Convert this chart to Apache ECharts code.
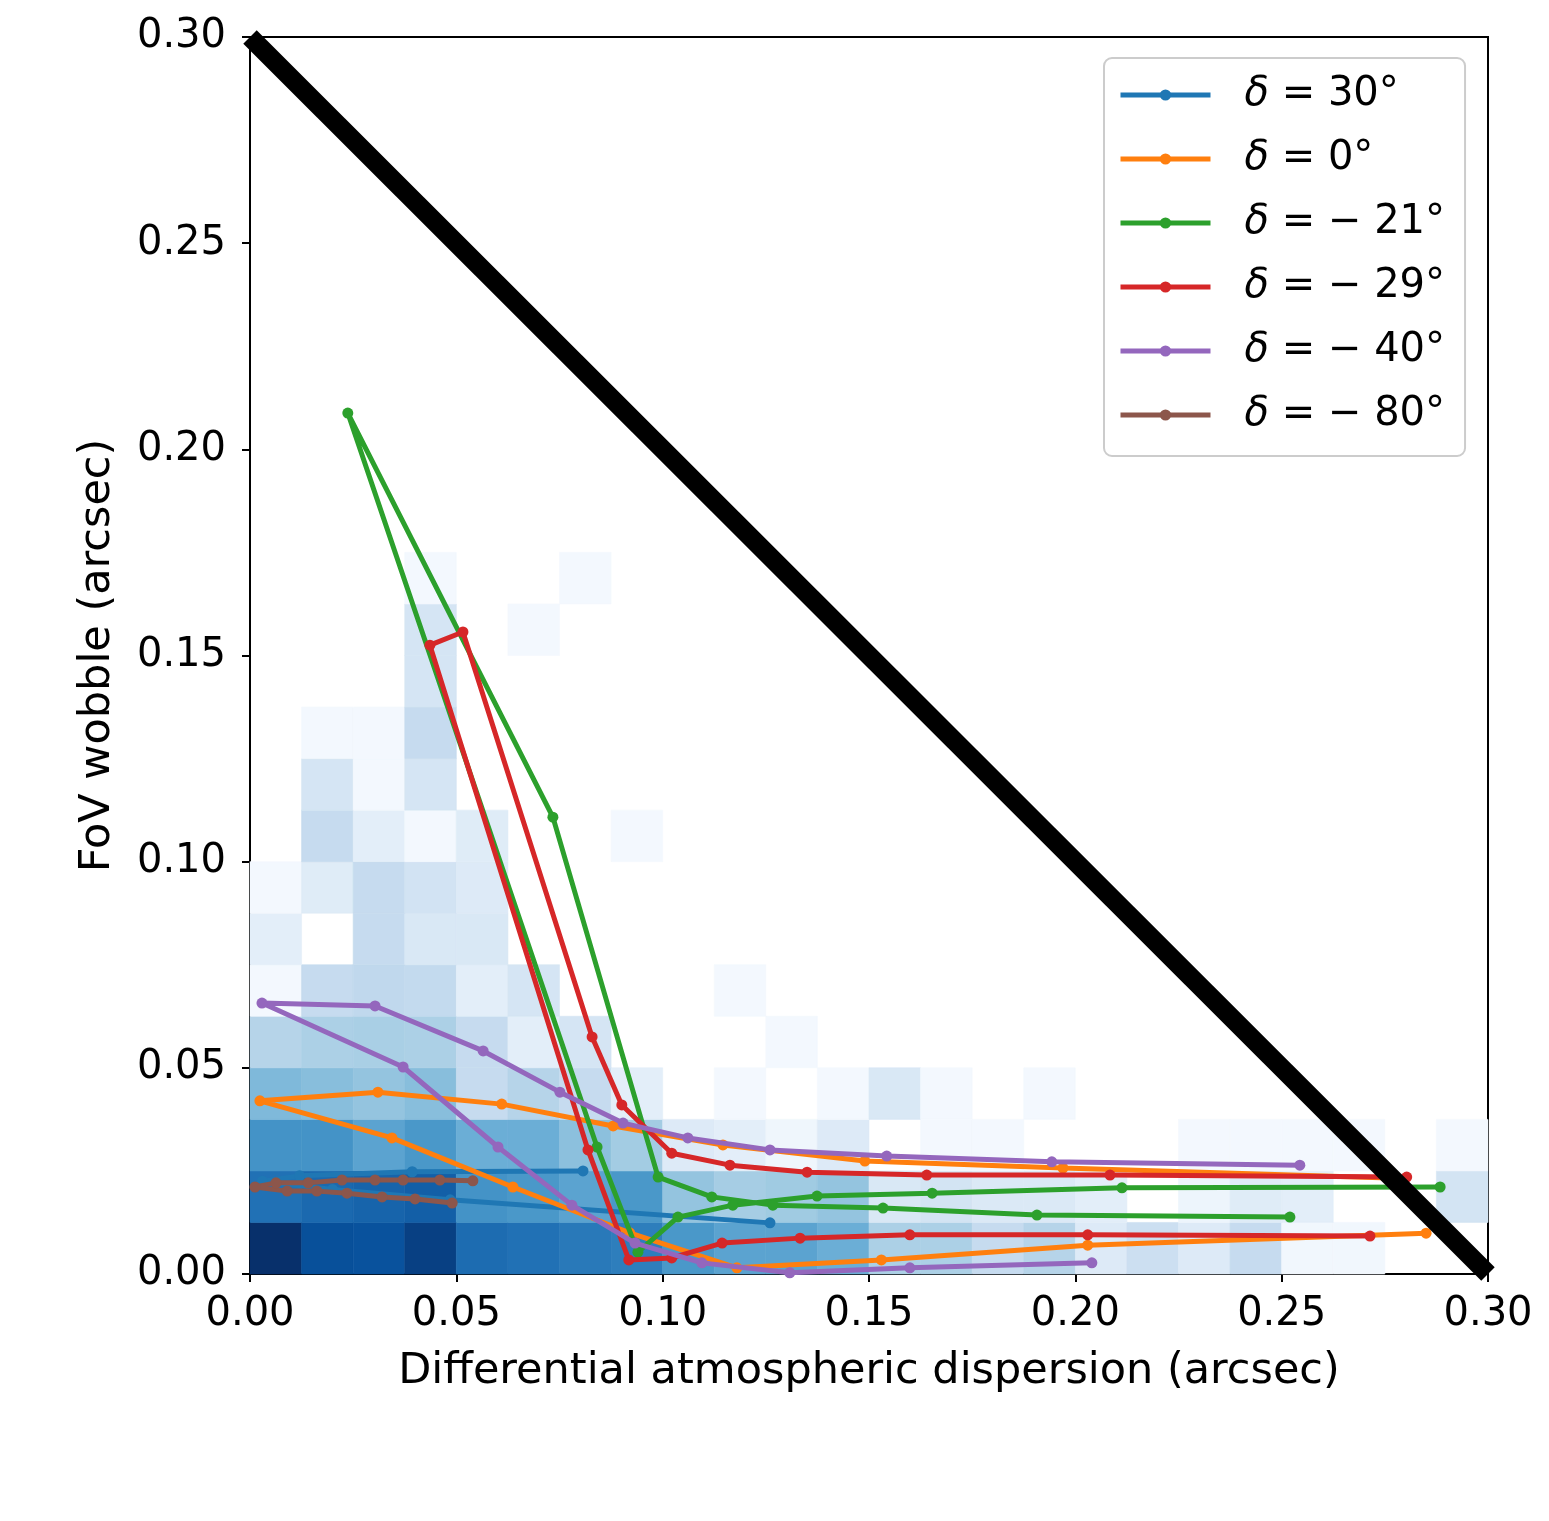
<!DOCTYPE html>
<html><head><meta charset="utf-8">
<script src="https://cdn.jsdelivr.net/npm/echarts@6/dist/echarts.min.js"></script>
<style>html,body{margin:0;padding:0;background:#fff}#c{width:1549px;height:1521px}</style>
</head><body><div id="c"></div>
<script>
// ---- data ----
const tickValues = [0, 0.05, 0.10, 0.15, 0.20, 0.25, 0.30];
const binSize = 0.0125;
// 2D histogram (normalised density, 0 = empty bin); rows from y=0 upward, 24 columns from x=0
const heatRows = [
  [1.0, 0.88, 0.87, 0.94, 0.77, 0.75, 0.72, 0.70, 0.60, 0.55, 0.55, 0.50, 0.33, 0.33, 0.25, 0.30, 0.13, 0.22, 0.13, 0.25, 0.03, 0.03, 0, 0],
  [0.75, 0.78, 0.80, 0.82, 0.62, 0.60, 0.55, 0.60, 0.40, 0.35, 0.37, 0.40, 0.15, 0.18, 0.14, 0.14, 0.10, 0, 0.05, 0.12, 0.10, 0, 0, 0.18],
  [0.62, 0.62, 0.55, 0.60, 0.50, 0.50, 0.42, 0.36, 0.13, 0.10, 0.04, 0.13, 0, 0.02, 0.02, 0, 0, 0, 0.02, 0.02, 0.02, 0.02, 0, 0.02],
  [0.45, 0.43, 0.40, 0.43, 0.25, 0.30, 0.25, 0.10, 0, 0.02, 0, 0.02, 0.15, 0.02, 0, 0.02, 0, 0, 0, 0, 0, 0, 0, 0],
  [0.30, 0.33, 0.34, 0.33, 0.25, 0.10, 0.17, 0, 0, 0, 0.02, 0, 0, 0, 0, 0, 0, 0, 0, 0, 0, 0, 0, 0],
  [0.02, 0.25, 0.27, 0.26, 0.10, 0.17, 0, 0, 0, 0.02, 0, 0, 0, 0, 0, 0, 0, 0, 0, 0, 0, 0, 0, 0],
  [0.10, 0, 0.25, 0.15, 0.15, 0, 0, 0, 0, 0, 0, 0, 0, 0, 0, 0, 0, 0, 0, 0, 0, 0, 0, 0],
  [0.02, 0.12, 0.25, 0.19, 0.13, 0, 0, 0, 0, 0, 0, 0, 0, 0, 0, 0, 0, 0, 0, 0, 0, 0, 0, 0],
  [0, 0.25, 0.10, 0.02, 0.12, 0, 0, 0.02, 0, 0, 0, 0, 0, 0, 0, 0, 0, 0, 0, 0, 0, 0, 0, 0],
  [0, 0.17, 0.02, 0.17, 0, 0, 0, 0, 0, 0, 0, 0, 0, 0, 0, 0, 0, 0, 0, 0, 0, 0, 0, 0],
  [0, 0.02, 0.02, 0.25, 0, 0, 0, 0, 0, 0, 0, 0, 0, 0, 0, 0, 0, 0, 0, 0, 0, 0, 0, 0],
  [0, 0, 0, 0.17, 0, 0, 0, 0, 0, 0, 0, 0, 0, 0, 0, 0, 0, 0, 0, 0, 0, 0, 0, 0],
  [0, 0, 0, 0.17, 0, 0.02, 0, 0, 0, 0, 0, 0, 0, 0, 0, 0, 0, 0, 0, 0, 0, 0, 0, 0],
  [0, 0, 0, 0.02, 0, 0, 0.02, 0, 0, 0, 0, 0, 0, 0, 0, 0, 0, 0, 0, 0, 0, 0, 0, 0]
];
const seriesNames = ['δ = 30°', 'δ = 0°', 'δ = − 21°', 'δ = − 29°', 'δ = − 40°', 'δ = − 80°'];
const dec30 = [[0.0807,0.0250],[0.0393,0.0248],[0.0120,0.0238],[0.0030,0.0225],[0.0200,0.0205],[0.0485,0.0180],[0.1260,0.0124]];
const dec0 = [[0.276,0.0233],[0.197,0.0257],[0.149,0.0274],[0.1146,0.0313],[0.088,0.0359],[0.061,0.0412],[0.031,0.0441],[0.0024,0.0420],
              [0.0344,0.0330],[0.0637,0.0211],[0.092,0.0100],[0.118,0.0015],[0.153,0.0034],[0.203,0.0070],[0.285,0.0099]];
const decM21 = [[0.2884,0.0211],[0.2113,0.0209],[0.1653,0.0196],[0.1374,0.0189],[0.1170,0.0167],[0.1037,0.0138],[0.0940,0.0053],[0.0841,0.0308],
                [0.0237,0.2088],[0.0734,0.1108],[0.0989,0.0235],[0.1119,0.0187],[0.1267,0.0167],[0.1534,0.0160],[0.1907,0.0143],[0.2520,0.0138]];
const decM29 = [[0.2714,0.0092],[0.2030,0.0095],[0.1599,0.0095],[0.1333,0.0087],[0.1144,0.0075],[0.1022,0.0039],[0.0918,0.0034],[0.0819,0.0301],
                [0.0436,0.1525],[0.0516,0.1557],[0.0829,0.0575],[0.0901,0.0410],[0.1022,0.0293],[0.1163,0.0264],[0.1350,0.0247],[0.1640,0.0240],[0.2084,0.0240],[0.2803,0.0235]];
const decM40 = [[0.2544,0.0264],[0.1943,0.0272],[0.1543,0.0286],[0.1260,0.0301],[0.1061,0.0330],[0.0904,0.0366],[0.0751,0.0441],[0.0565,0.0541],[0.0303,0.0650],[0.0029,0.0657],
                [0.0371,0.0502],[0.0601,0.0308],[0.0780,0.0167],[0.0933,0.0075],[0.1095,0.0027],[0.1308,0.0003],[0.1599,0.0015],[0.2040,0.0027]];
const decM80 = [[0.0540,0.0226],[0.0460,0.0228],[0.0371,0.0228],[0.0303,0.0228],[0.0223,0.0228],[0.0141,0.0221],[0.0063,0.0221],[0.0012,0.0211],
                [0.0090,0.0201],[0.0162,0.0201],[0.0235,0.0196],[0.0320,0.0187],[0.0400,0.0182],[0.0490,0.0172]];
const limitLine = [[0, 0.3], [0.3, 0]];
const seriesColors = ['#1f77b4', '#ff7f0e', '#2ca02c', '#d62728', '#9467bd', '#8c564b'];

// ---- helpers ----
const bluesStops = ['#f7fbff','#deebf7','#c6dbef','#9ecae1','#6baed6','#4292c6','#2171b5','#08519c','#08306b'];
function hexToRgb(h){return [parseInt(h.slice(1,3),16),parseInt(h.slice(3,5),16),parseInt(h.slice(5,7),16)];}
function blues(t){
  t = Math.max(0, Math.min(1, t));
  const f = t * (bluesStops.length - 1);
  const i = Math.min(Math.floor(f), bluesStops.length - 2);
  const a = hexToRgb(bluesStops[i]), b = hexToRgb(bluesStops[i+1]);
  const u = f - i;
  return 'rgb(' + a.map((v,k)=>Math.round(v + (b[k]-v)*u)).join(',') + ')';
}
const heatData = [];
heatRows.forEach((row, r) => row.forEach((v, c) => { if (v > 0) heatData.push([c * binSize, r * binSize, v]); }));

const FONT = 'DejaVu Sans';
const chart = echarts.init(document.getElementById('c'), null, {renderer: 'canvas'});
const lineSeries = [dec30, dec0, decM21, decM29, decM40, decM80].map((d, i) => ({
  name: seriesNames[i], type: 'line', data: d, symbol: 'circle', symbolSize: 11,
  showSymbol: true, lineStyle: {width: 5, color: seriesColors[i]},
  itemStyle: {color: seriesColors[i]}, z: 3 + i, animation: false
}));

chart.setOption({
  animation: false,
  backgroundColor: '#fff',
  grid: {left: 250, top: 37, right: 61, bottom: 247, show: true, borderColor: '#000', borderWidth: 2, backgroundColor: 'transparent'},
  xAxis: {
    type: 'value', min: 0, max: 0.3, interval: 0.05,
    axisLine: {show: true, lineStyle: {color: '#000', width: 2}},
    axisTick: {show: true, length: 8, lineStyle: {color: '#000', width: 2}},
    axisLabel: {fontSize: 40, color: '#000', fontFamily: FONT, margin: 21, formatter: v => v.toFixed(2)},
    splitLine: {show: false},
    name: 'Differential atmospheric dispersion (arcsec)', nameLocation: 'middle', nameGap: 76,
    nameTextStyle: {fontSize: 43, color: '#000', fontFamily: FONT}
  },
  yAxis: {
    type: 'value', min: 0, max: 0.3, interval: 0.05,
    axisLine: {show: true, lineStyle: {color: '#000', width: 2}},
    axisTick: {show: true, length: 8, lineStyle: {color: '#000', width: 2}},
    axisLabel: {fontSize: 40, color: '#000', fontFamily: FONT, margin: 24, formatter: v => v.toFixed(2)},
    splitLine: {show: false},
    name: 'FoV wobble (arcsec)', nameLocation: 'middle', nameGap: 131,
    nameTextStyle: {fontSize: 43, color: '#000', fontFamily: FONT}
  },
  legend: {
    data: seriesNames, orient: 'vertical', left: 1104, top: 58,
    padding: [17, 20, 21, 14], itemGap: 24, itemWidth: 90, itemHeight: 14,
    lineStyle: {width: 5},
    backgroundColor: 'rgba(255,255,255,0.8)', borderColor: '#cccccc', borderWidth: 2, borderRadius: 8,
    formatter: n => n.replace('δ', '{i|δ}'),
    textStyle: {fontSize: 40, color: '#000', fontFamily: FONT, lineHeight: 40, padding: [0, 0, 0, 29],
      rich: {i: {fontSize: 40, fontStyle: 'italic', fontFamily: FONT, color: '#000', lineHeight: 40}}}
  },
  series: [
    {
      type: 'custom', name: 'hist', data: heatData, z: 1, silent: true,
      renderItem: function (params, api) {
        const x0 = api.value(0), y0 = api.value(1), v = api.value(2);
        const p0 = api.coord([x0, y0]);
        const p1 = api.coord([x0 + binSize, y0 + binSize]);
        const col = blues(v);
        return {type: 'rect', shape: {x: p0[0], y: p1[1], width: p1[0] - p0[0], height: p0[1] - p1[1]},
                style: {fill: col, stroke: col, lineWidth: 0.6}};
      }
    },
    ...lineSeries,
    {
      type: 'line', name: 'limit', data: limitLine, symbol: 'none', clip: false, z: 20,
      lineStyle: {width: 19, color: '#000', cap: 'butt'}, silent: true
    }
  ]
});
</script></body></html>
